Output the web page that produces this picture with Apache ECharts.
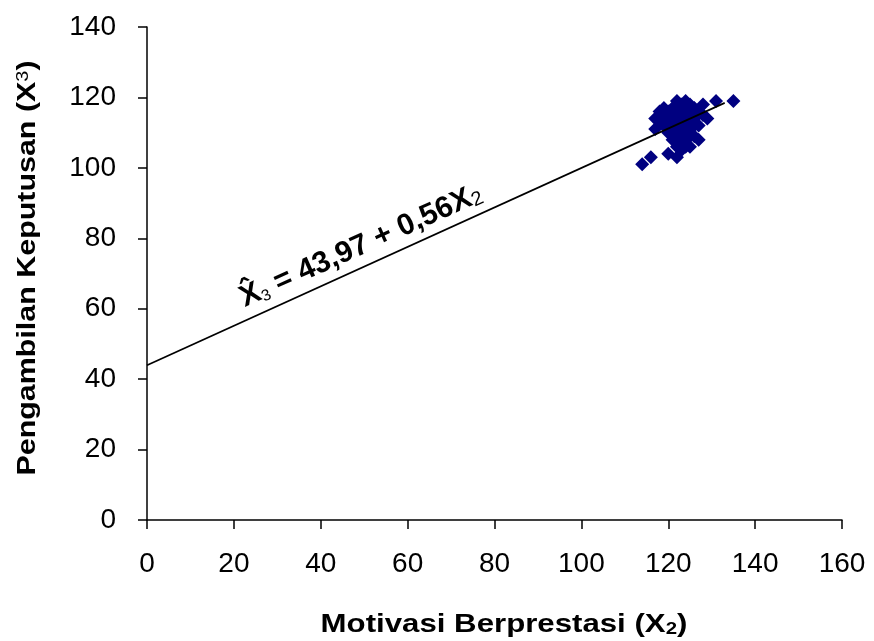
<!DOCTYPE html>
<html>
<head>
<meta charset="utf-8">
<script src="https://cdn.jsdelivr.net/npm/echarts@6/dist/echarts.min.js"></script>
<style>
html,body{margin:0;padding:0;background:#fff;}
#chart{width:874px;height:641px;}
</style>
</head>
<body>
<div id="chart"></div>
<script>
// Scatter data: [Motivasi Berprestasi X2, Pengambilan Keputusan X3]
var pointsX2 = [114,116,120,122,125,127,131,135,128,129,127,117,117,119,122,124,
  118,119,120,121,122,123,125,126,127,128,119,120,121,122,123,124,125,126,
  120,121,122,123,124,125,126,121,122,123,124,125,126,122,123,124,125,123,124,
  121,123,124,118,126,122,120];
var pointsX3 = [101,103,104,103,106,108,119,119,118,114,112,114,111,117,119,119,
  113,115,116,117,117,118,118,117,116,115,112,113,114,115,116,116,115,114,
  110,111,112,113,114,113,112,108,109,110,111,110,109,106,107,108,109,105,106,
  113,111,112,116,115,111,112];
// Regression line: X3 = 43.97 + 0.56 X2
var intercept = 43.97;
var slope = 0.56;
var lineX = [0, 133];
var xTicks = {min: 0, max: 160, interval: 20};
var yTicks = {min: 0, max: 140, interval: 20};

var scatterData = pointsX2.map(function (x, i) { return [x, pointsX3[i]]; });
var lineData = lineX.map(function (x) { return [x, intercept + slope * x]; });

var FONT = '"Liberation Sans", Arial, sans-serif';
var chart = echarts.init(document.getElementById('chart'));
chart.setOption({
  animation: false,
  backgroundColor: '#ffffff',
  grid: {left: 147, right: 32, top: 27, bottom: 121, containLabel: false},
  xAxis: {
    type: 'value', min: xTicks.min, max: xTicks.max, interval: xTicks.interval,
    axisLine: {onZero: false, lineStyle: {color: '#000', width: 1.5}},
    axisTick: {show: true, length: 9, lineStyle: {color: '#000', width: 1.5}},
    axisLabel: {color: '#000', fontSize: 28, fontFamily: FONT, margin: 30},
    splitLine: {show: false}
  },
  yAxis: {
    type: 'value', min: yTicks.min, max: yTicks.max, interval: yTicks.interval,
    axisLine: {show: true, onZero: false, lineStyle: {color: '#000', width: 1.5}},
    axisTick: {show: true, length: 9, lineStyle: {color: '#000', width: 1.5}},
    axisLabel: {color: '#000', fontSize: 28, fontFamily: FONT, margin: 31},
    splitLine: {show: false}
  },
  series: [
    {
      type: 'line', data: lineData, showSymbol: false, symbol: 'none',
      lineStyle: {color: '#000', width: 1.7}, z: 3
    },
    {
      type: 'scatter', data: scatterData, symbol: 'diamond', symbolSize: 14,
      itemStyle: {color: '#000080', opacity: 1}, z: 2
    }
  ],
  graphic: [
    {
      type: 'text', x: 28, y: 268, rotation: Math.PI / 2, scaleX: 1.17,
      style: {
        text: '{b|Pengambilan Keputusan (X}{s|3}{b|)}',
        align: 'center', verticalAlign: 'middle',
        rich: {
          b: {fontSize: 26, fontWeight: 'bold', fontFamily: FONT, fill: '#000', color: '#000'},
          s: {fontSize: 17, fontWeight: 'normal', fontFamily: FONT, fill: '#000', color: '#000', verticalAlign: 'top'}
        }
      }
    },
    {
      type: 'text', x: 504, y: 625, scaleX: 1.2,
      style: {
        text: '{b|Motivasi Berprestasi (X}{s|2}{b|)}',
        align: 'center', verticalAlign: 'middle',
        rich: {
          b: {fontSize: 26, fontWeight: 'bold', fontFamily: FONT, fill: '#000', color: '#000'},
          s: {fontSize: 17, fontWeight: 'bold', fontFamily: FONT, fill: '#000', color: '#000', verticalAlign: 'bottom'}
        }
      }
    },
    {
      type: 'text', x: 361, y: 246, rotation: 0.42,
      style: {
        text: '{b|X\u0302}{s|3}{b| = 43,97 + 0,56X}{s2|2}',
        align: 'center', verticalAlign: 'middle',
        rich: {
          b: {fontSize: 30, fontWeight: 'bold', fontFamily: FONT, fill: '#000', color: '#000'},
          s: {fontSize: 16, fontWeight: 'normal', fontFamily: FONT, fill: '#000', color: '#000', verticalAlign: 'bottom'},
          s2: {fontSize: 20, fontWeight: 'normal', fontFamily: FONT, fill: '#000', color: '#000', verticalAlign: 'bottom'}
        }
      }
    }
  ]
});
</script>
</body>
</html>
